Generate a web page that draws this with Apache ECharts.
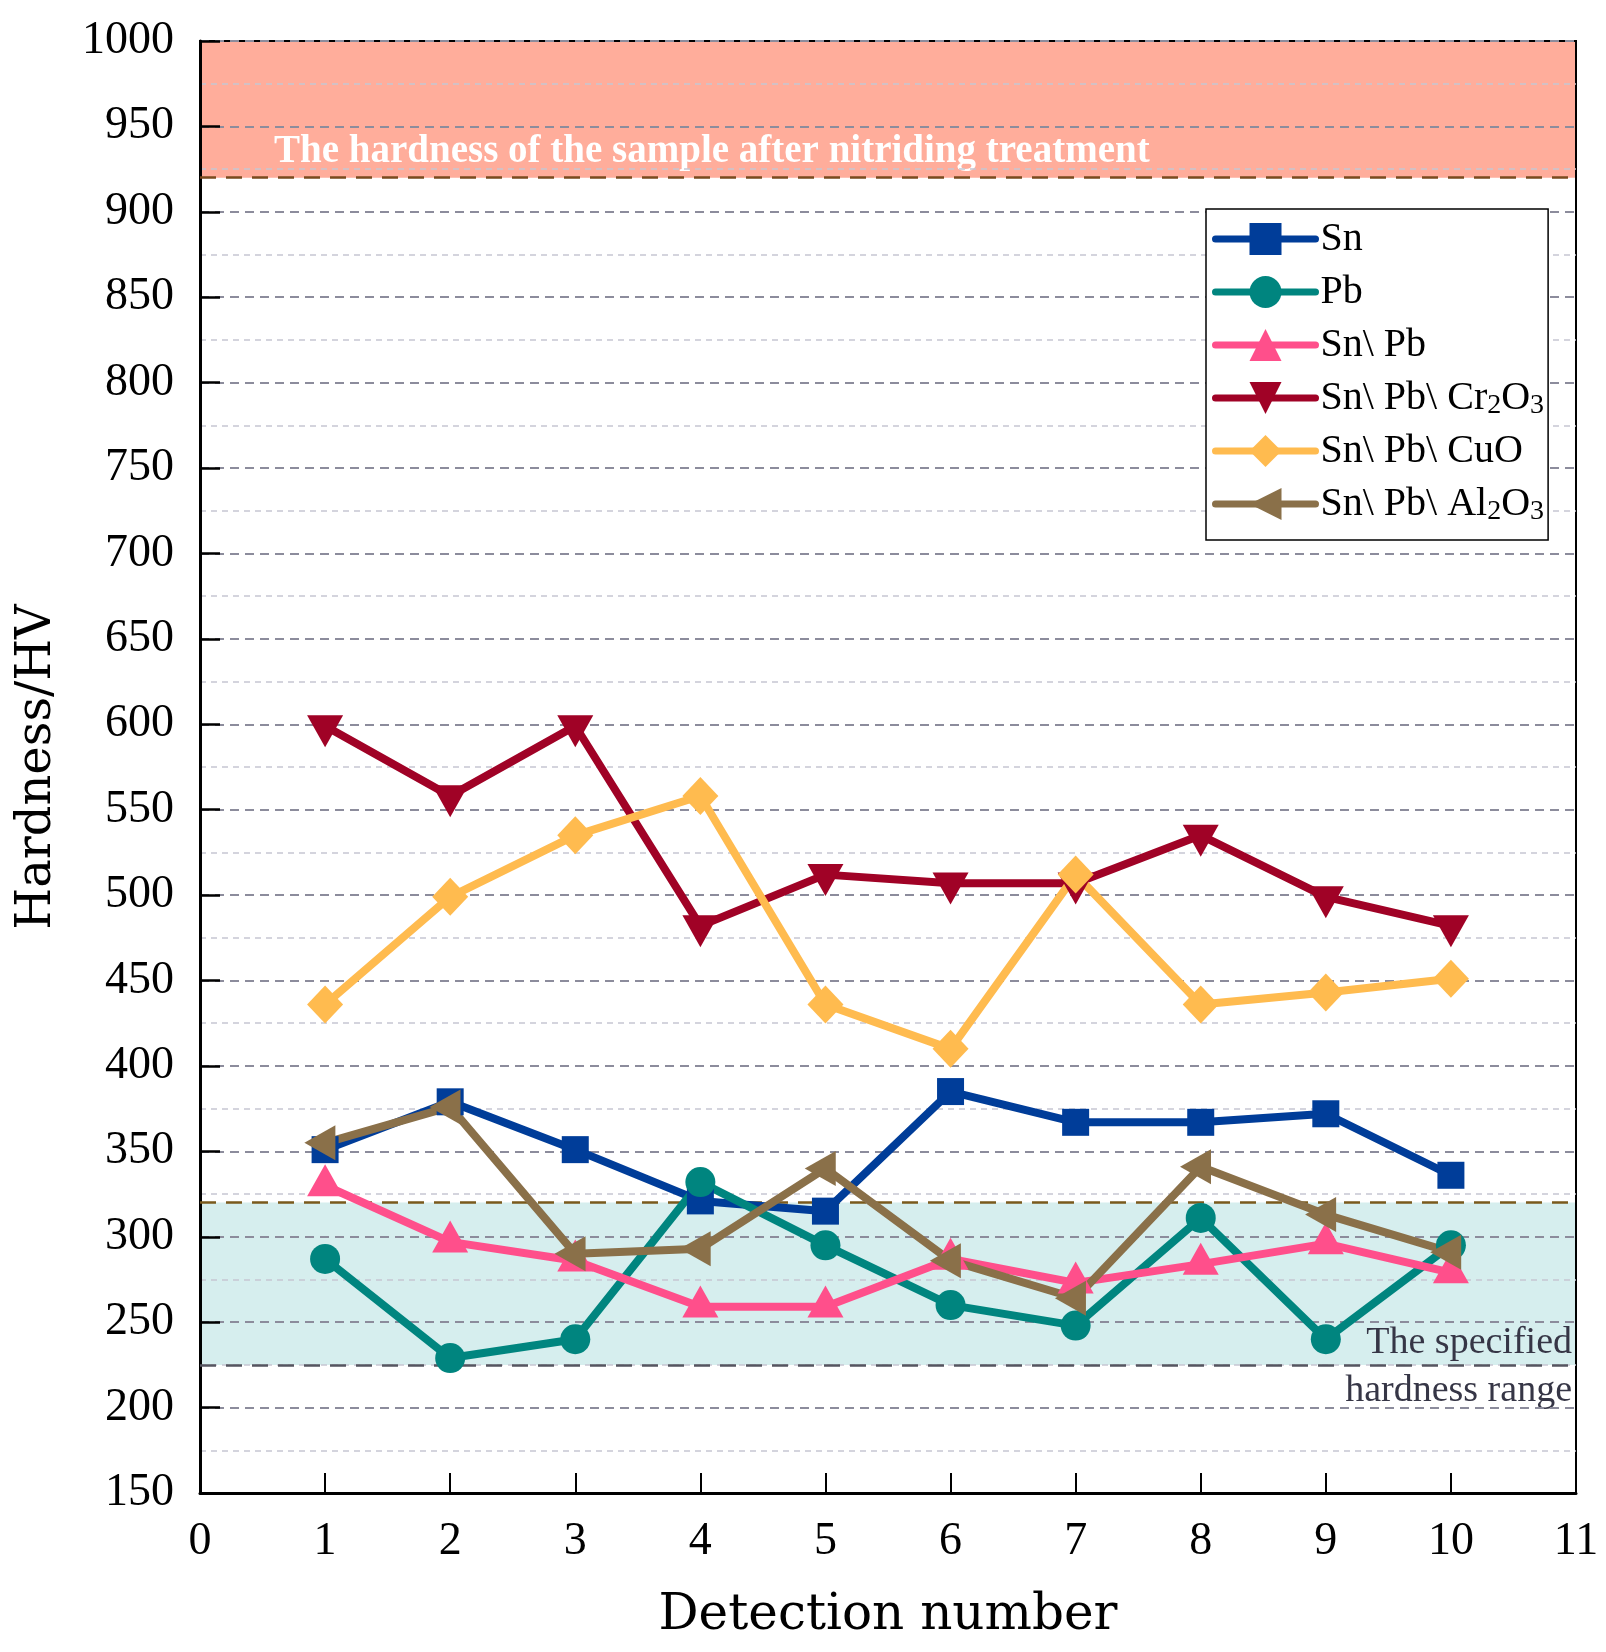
<!DOCTYPE html>
<html>
<head>
<meta charset="utf-8">
<title>Hardness</title>
<script src="https://cdn.jsdelivr.net/npm/echarts@6/dist/echarts.min.js"></script>
<style>
  html, body { margin: 0; padding: 0; background: #fff; }
  #chart { width: 1606px; height: 1652px; }
</style>
</head>
<body>
<div id="chart"></div>
<script>
// data
const detection = [1, 2, 3, 4, 5, 6, 7, 8, 9, 10]
const sn = [351, 379, 351, 321, 315, 385, 367, 367, 372, 336]
const pb = [287, 229, 240, 332, 295, 260, 248, 311, 240, 295]
const snPb = [330, 297, 286, 259, 259, 287, 273, 284, 296, 279]
const snPbCr = [599, 558, 599, 482, 512, 507, 507, 535, 499, 482]
const snPbCuO = [436, 499, 535, 558, 436, 410, 512, 436, 443, 451]
const snPbAl = [355, 376, 290, 293, 340, 286, 264, 341, 313, 291]

const seriesNames = ['Sn', 'Pb', 'Sn\\ Pb', 'Sn\\ Pb\\ Cr2O3', 'Sn\\ Pb\\ CuO', 'Sn\\ Pb\\ Al2O3']
const legendText = {
  'Sn\\ Pb\\ Cr2O3': 'Sn\\ Pb\\ Cr{sub|2}O{sub|3}',
  'Sn\\ Pb\\ Al2O3': 'Sn\\ Pb\\ Al{sub|2}O{sub|3}'
}

const nitridedBand = [920, 1000]
const specifiedBand = [225, 320]
const nitridedText = 'The hardness of the sample after nitriding treatment'
const specifiedText = 'The specified\nhardness range'

const serif = 'Liberation Serif'
const titleFont = 'DejaVu Serif'
const lineWidth = 8

function pairs(values) {
  return values.map((v, i) => [detection[i], v])
}

function lineSeries(name, values, color, symbol, size, offset) {
  return {
    name,
    type: 'line',
    data: pairs(values),
    symbol,
    symbolSize: size,
    symbolOffset: offset || [0, 0],
    showSymbol: true,
    lineStyle: { color, width: lineWidth, cap: 'round', join: 'round' },
    itemStyle: { color, opacity: 1 },
    emphasis: { disabled: true },
    animation: false
  }
}

const chart = echarts.init(document.getElementById('chart'))

chart.setOption({
  backgroundColor: '#fff',
  animation: false,
  grid: {
    left: 200,
    top: 41,
    right: 30,
    bottom: 159,
    show: true,
    borderColor: '#000',
    borderWidth: 2,
    backgroundColor: 'transparent'
  },
  legend: {
    data: seriesNames,
    orient: 'vertical',
    left: 1206,
    top: 209,
    padding: [8, 4, 14, 6],
    itemWidth: 100,
    itemHeight: 40,
    itemGap: 9,
    backgroundColor: '#fff',
    borderColor: '#000',
    borderWidth: 1.5,
    borderRadius: 0,
    lineStyle: { width: 7 },
    formatter: name => legendText[name] || name,
    textStyle: {
      fontFamily: serif,
      fontSize: 40,
      lineHeight: 44,
      color: '#000',
      rich: {
        sub: { fontFamily: serif, fontSize: 28, lineHeight: 20, verticalAlign: 'bottom', color: '#000' }
      }
    }
  },
  xAxis: {
    type: 'value',
    min: 0,
    max: 11,
    interval: 1,
    name: 'Detection number',
    nameLocation: 'middle',
    nameGap: 98,
    nameTextStyle: { fontFamily: titleFont, fontSize: 50, color: '#000' },
    axisLine: { show: true, onZero: false, lineStyle: { color: '#000', width: 3 } },
    axisTick: { show: true, inside: true, length: 20, lineStyle: { color: '#000', width: 2 } },
    axisLabel: { fontFamily: serif, fontSize: 46, color: '#000', margin: 26 },
    splitLine: { show: false }
  },
  yAxis: {
    type: 'value',
    min: 150,
    max: 1000,
    interval: 50,
    name: 'Hardness/HV',
    nameLocation: 'middle',
    nameGap: 138,
    nameRotate: 90,
    nameTextStyle: { fontFamily: titleFont, fontSize: 48, color: '#000' },
    axisLine: { show: true, onZero: false, lineStyle: { color: '#000', width: 3 } },
    axisTick: { show: true, inside: true, length: 20, lineStyle: { color: '#000', width: 2.5 } },
    axisLabel: { fontFamily: serif, fontSize: 46, color: '#000', margin: 26, formatter: v => String(v) },
    splitLine: { show: true, lineStyle: { color: '#8c8c9c', width: 2, type: [9, 6] } },
    minorTick: { show: false, splitNumber: 2 },
    minorSplitLine: { show: true, lineStyle: { color: '#c6c6d2', width: 1.5, type: [6, 5] } }
  },
  series: [
    {
      // shaded bands, kept below the grid lines
      name: 'bands',
      type: 'line',
      data: [],
      z: -1,
      markArea: {
        silent: true,
        z: -1,
        data: [
          [
            {
              yAxis: nitridedBand[0],
              itemStyle: { color: '#ffad9b' },
              label: {
                show: true,
                formatter: nitridedText,
                position: [74, 111],
                align: 'left',
                verticalAlign: 'middle',
                fontFamily: serif,
                fontWeight: 'bold',
                fontSize: 39,
                color: '#fff'
              }
            },
            { yAxis: nitridedBand[1] }
          ],
          [
            {
              yAxis: specifiedBand[1],
              itemStyle: { color: '#d6eeee' },
              label: {
                show: true,
                formatter: specifiedText,
                position: [1372, 164],
                align: 'right',
                verticalAlign: 'middle',
                lineHeight: 48,
                fontFamily: serif,
                fontSize: 38,
                color: '#363646'
              }
            },
            { yAxis: specifiedBand[0] }
          ]
        ]
      }
    },
    {
      // dashed band edges
      name: 'edges',
      type: 'line',
      data: [],
      markLine: {
        silent: true,
        z: 1,
        symbol: 'none',
        label: { show: false },
        data: [
          { yAxis: nitridedBand[0], lineStyle: { color: '#7a4a1e', width: 2.5, type: [16, 10] } },
          { yAxis: specifiedBand[1], lineStyle: { color: '#7a5a1c', width: 2.5, type: [16, 10] } },
          { yAxis: specifiedBand[0], lineStyle: { color: '#555560', width: 2.5, type: [16, 10] } }
        ]
      }
    },
    lineSeries(seriesNames[0], sn, '#003d99', 'rect', 27),
    lineSeries(seriesNames[1], pb, '#00857f', 'circle', 30),
    lineSeries(seriesNames[2], snPb, '#ff4f8b', 'triangle', [36, 32], [0, -5.3]),
    lineSeries(seriesNames[3], snPbCr, '#a00226', 'path://M0,0L10,0L5,10Z', [36, 32], [0, 5.3]),
    lineSeries(seriesNames[4], snPbCuO, '#ffbb4f', 'diamond', [36, 38]),
    lineSeries(seriesNames[5], snPbAl, '#8a7049', 'path://M0,5L10,0L10,10Z', [31, 35], [-5.2, 0])
  ]
})
</script>
</body>
</html>
